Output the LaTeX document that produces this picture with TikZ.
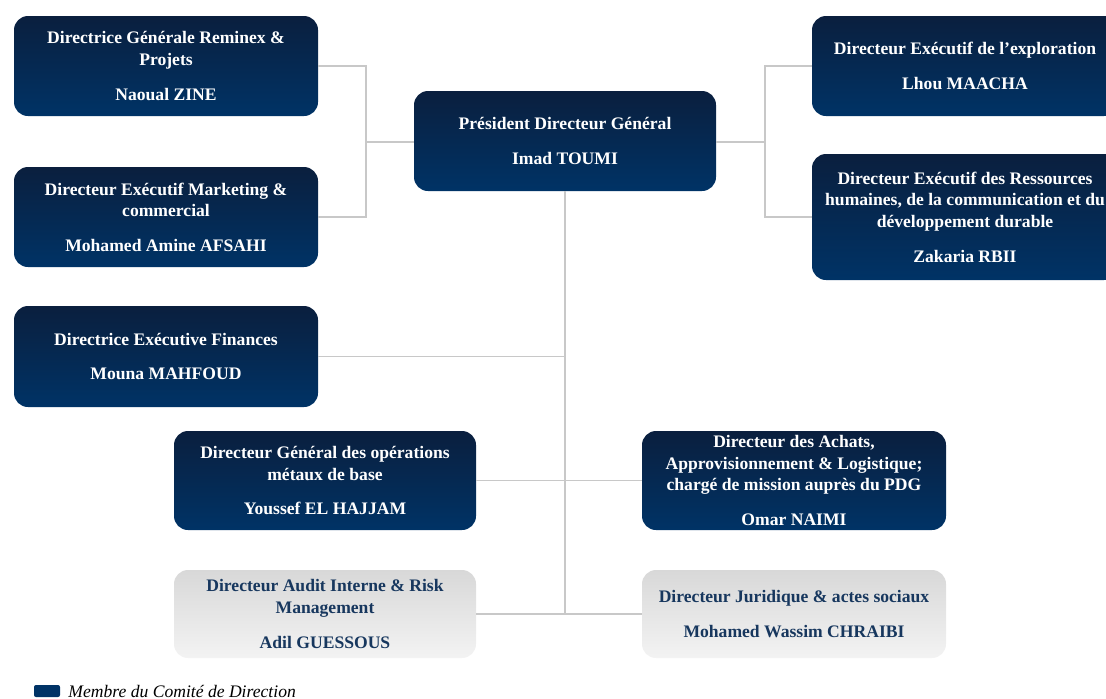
\documentclass[tikz,border=0pt]{standalone}
\usepackage{fontspec}
\setmainfont{Liberation Serif}
\usetikzlibrary{shapes,calc,positioning,shadings}
\definecolor{navytop}{RGB}{10,31,62}
\definecolor{navybot}{RGB}{0,51,102}
\definecolor{greytop}{RGB}{216,216,216}
\definecolor{greybot}{RGB}{243,243,243}
\definecolor{greytext}{RGB}{23,55,94}
\definecolor{linkgrey}{RGB}{200,200,200}
\tikzset{
  membre/.style={rounded corners=7pt, top color=navytop, bottom color=navybot, text=white,
    align=center, minimum width=152pt, minimum height=50pt, inner sep=2pt,
    font=\bfseries\fontsize{8.8}{10.8}\selectfont},
  autre/.style={membre, top color=greytop, bottom color=greybot, text=greytext},
  link/.style={draw=linkgrey, line width=0.75pt}
}
\begin{document}
\begin{tikzpicture}[x=0.5pt, y=-0.5pt]
	\useasboundingbox (0,0) rectangle (1106,698);
	\node[membre] (reminex) at (166,66) {Directrice Générale Reminex \&\\Projets\\[6.5pt]Naoual ZINE};
	\node[membre] (marketing) at (166,217) {Directeur Exécutif Marketing \&\\commercial\\[6.5pt]Mohamed Amine AFSAHI};
	\node[membre, minimum height=50.5pt] (finances) at (166,356.5) {Directrice Exécutive Finances\\[6.5pt]Mouna MAHFOUD};
	\node[membre, minimum width=151pt] (pdg) at (565,141) {Président Directeur Général\\[6.5pt]Imad TOUMI};
	\node[membre, minimum width=153pt] (explo) at (965,66) {Directeur Exécutif de l’exploration\\[6.5pt]Lhou MAACHA};
	\node[membre, minimum width=153pt, minimum height=63pt] (rh) at (965,217) {Directeur Exécutif des Ressources\\humaines, de la communication et du\\développement durable\\[6.5pt]Zakaria RBII};
	\node[membre, minimum width=151pt, minimum height=49.5pt] (metaux) at (325,480.5) {Directeur Général des opérations\\métaux de base\\[6.5pt]Youssef EL HAJJAM};
	\node[membre, minimum height=49.5pt] (achats) at (794,480.5) {Directeur des Achats,\\Approvisionnement \& Logistique;\\chargé de mission auprès du PDG\\[6.5pt]Omar NAIMI};
	\node[autre, minimum width=151pt, minimum height=44pt] (audit) at (325,614) {Directeur Audit Interne \& Risk\\Management\\[6.5pt]Adil GUESSOUS};
	\node[autre, minimum height=44pt] (juridique) at (794,614) {Directeur Juridique \& actes sociaux\\[6.5pt]Mohamed Wassim CHRAIBI};
	\coordinate (jgauche) at (366,142);
	\coordinate (jdroite) at (765,142);
	\coordinate (jbas) at (pdg.south |- audit.east);
	\draw[link] (reminex.east) -| (jgauche);
	\draw[link] (marketing.east) -| (jgauche);
	\draw[link] (jgauche) -- (pdg.west |- jgauche);
	\draw[link] (pdg.east |- jdroite) -- (jdroite);
	\draw[link] (explo.west) -| (jdroite);
	\draw[link] (rh.west) -| (jdroite);
	\draw[link] (pdg.south) -- (jbas);
	\draw[link] (finances.east) -- (finances.east -| pdg.south);
	\draw[link] (metaux.east) -- (achats.west);
	\draw[link] (audit.east) -- (juridique.west);
	\node[rounded corners=1pt, fill=navybot, minimum width=13pt, minimum height=6pt, inner sep=0pt] (legende) at (47,691) {};
	\node[anchor=base west, inner sep=0pt, font=\itshape\fontsize{8.8}{10.8}\selectfont] (membretxt) at (68,697) {Membre du Comité de Direction};
\end{tikzpicture}
\end{document}
